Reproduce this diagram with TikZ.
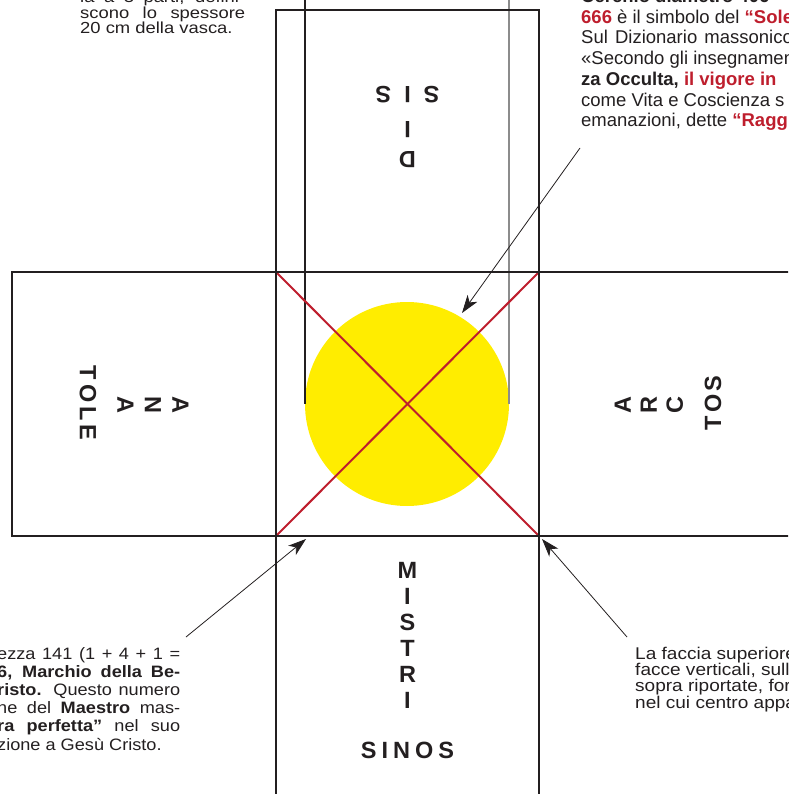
\documentclass[tikz,border=0pt]{standalone}
\usepackage{fontspec}
\setmainfont{Liberation Sans}
\usetikzlibrary{arrows.meta, positioning}
\definecolor{cink}{HTML}{231F20}
\definecolor{cred}{HTML}{BE1E2D}
\definecolor{cyellow}{HTML}{FFED00}
\definecolor{cgrey}{HTML}{8C8C8C}
\newcommand{\fitline}[2]{\makebox[#1][s]{#2}}
\tikzset{
  face/.style={draw=cink, line width=2.6pt},
  guide/.style={draw=#1, line width=1.1pt},
  guide/.default=cink,
  cross/.style={draw=cred, line width=2pt},
  pointer/.style={draw=cink, line width=0.8pt, -{Stealth[length=18pt, width=12pt, inset=5pt]}},
  word/.style={font=\fontsize{23.5}{26}\selectfont\bfseries, text=cink, inner sep=0pt, align=center},
  note/.style={text=cink, inner sep=0pt, anchor=base west, align=left},
}

\begin{document}
\begin{tikzpicture}[x=1pt, y=-1pt]
  \useasboundingbox (0,0) rectangle (788,794);
  \clip (0,0) rectangle (788,794);
  % sun disc and its diameter guides
  \fill[cyellow] (407,404) circle (102);
  \draw[guide] (305,-5) -- (305,404);
  \draw[guide=cgrey] (509,-5) -- (509,404);
  % central face, corners and diagonals
  \coordinate (nw) at (276,272);
  \coordinate (ne) at (539,272);
  \coordinate (sw) at (276,536);
  \coordinate (se) at (539,536);
  \draw[cross] (nw) -- (se);
  \draw[cross] (ne) -- (sw);
  % the net of faces
  \draw[face] (276,10) rectangle (ne);
  \draw[face] (12,272) rectangle (sw);
  \draw[face] (ne) rectangle (820,536);
  \draw[face] (sw) rectangle (539,820);
  \draw[face] (nw) rectangle (se);
  % lettering on the faces
  \node[word, rotate=180] (sis) at (407.5,95) {S\hspace{13pt}I\hspace{13pt}S};
  \node[word, rotate=180, font=\fontsize{23.5}{30}\selectfont\bfseries] (di) at (407.5,145) {D\\I};
  \node[word, rotate=-90, font=\fontsize{23.5}{27.5}\selectfont\bfseries] (ana) at (153,405) {A\\N\\A};
  \node[word, rotate=-90] (tole) at (88,403) {T\kern4pt O\kern4pt L\kern4pt E};
  \node[word, rotate=90] (arc) at (649,405) {A\\R\\C};
  \node[word, rotate=90] (tos) at (713,403) {T\kern3pt O\kern3pt S};
  \node[word] (mistri) at (407.5,635) {M\\I\\S\\T\\R\\I};
  \node[word] (sinos) at (407.5,750) {S\kern5pt I\kern5pt N\kern5pt O\kern5pt S};
  % notes, cut by the page edge (base = last line)
  \node[note, font=\fontsize{16}{15.5}\selectfont\addfontfeature{FakeStretch=1.15}] (noteTL) at (80,34)
    {\fitline{165pt}{la a 3 parti, defini-}\\\fitline{165pt}{scono lo spessore}\\20 cm della vasca.};
  \node[note, font=\fontsize{18.5}{20.75}\selectfont] (noteTR) at (581,126.8)
    {\textbf{Cerchio diametro 406}\\
     {\bfseries\color{cred}666} è il simbolo del {\bfseries\color{cred}“Sole}\\
     Sul \hspace{2pt}Dizionario \hspace{2pt}massonico\\
     «Secondo gli insegnamenti\\
     {\bfseries za Occulta,} {\bfseries\color{cred}il vigore in}\\
     come Vita e Coscienza s\\
     emanazioni, dette {\bfseries\color{cred}“Raggi}};
  \node[note, font=\fontsize{16.5}{18.2}\selectfont\addfontfeature{FakeStretch=1.1}] (noteBL) at (-3,750)
    {\fitline{183pt}{ezza 141 (1 + 4 + 1 =}\\
     \fitline{183pt}{\textbf{6, Marchio della Be-}}\\
     \fitline{183pt}{\textbf{risto.} Questo numero}\\
     \fitline{183pt}{ne del \textbf{Maestro} mas-}\\
     \fitline{183pt}{\textbf{ra perfetta”} nel suo}\\
     zione a Gesù Cristo.};
  \node[note, font=\fontsize{17}{16.3}\selectfont\addfontfeature{FakeStretch=1.12}] (noteBR) at (635,708)
    {La faccia superiore\\facce verticali, sulle\\sopra riportate, for\\nel cui centro appa};
  % pointers
  \coordinate (sunTail) at (580,148);
  \coordinate (sunTip) at (462,313);
  \coordinate (swTail) at (186,637);
  \coordinate (swTip) at (306,539);
  \coordinate (seTail) at (627,637);
  \coordinate (seTip) at (542,539);
  \draw[pointer] (sunTail) -- (sunTip);
  \draw[pointer] (swTail) -- (swTip);
  \draw[pointer] (seTail) -- (seTip);
\end{tikzpicture}
\end{document}
